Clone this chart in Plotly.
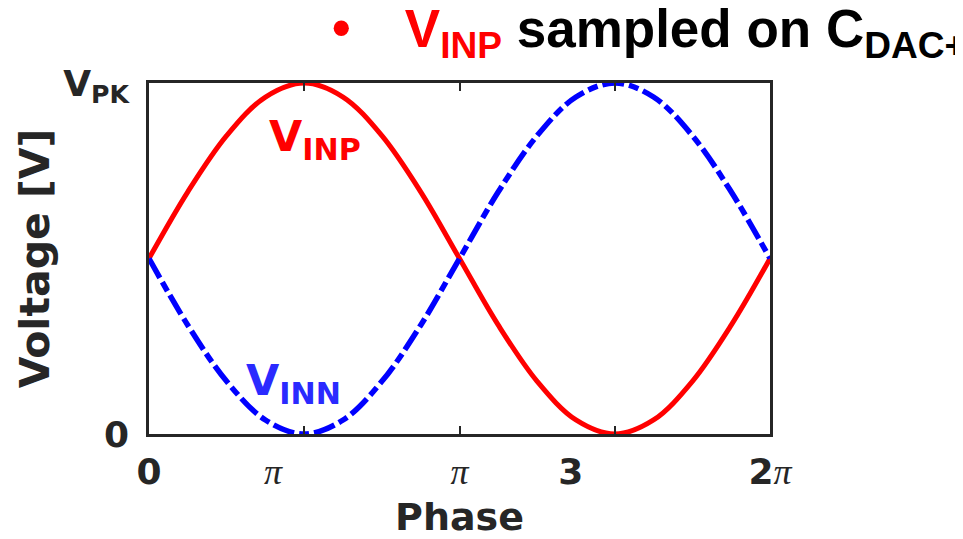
import plotly.graph_objects as go

# Phase in degrees (0 .. 2*pi)
phase_deg = [0, 22.5, 45, 67.5, 90, 112.5, 135, 157.5, 180,
             202.5, 225, 247.5, 270, 292.5, 315, 337.5, 360]
# Normalised voltage (0 .. V_PK)
v_inp = [0.5, 0.69, 0.85, 0.96, 1.0, 0.96, 0.85, 0.69, 0.5,
         0.31, 0.15, 0.04, 0.0, 0.04, 0.15, 0.31, 0.5]
v_inn = [0.5, 0.31, 0.15, 0.04, 0.0, 0.04, 0.15, 0.31, 0.5,
         0.69, 0.85, 0.96, 1.0, 0.96, 0.85, 0.69, 0.5]

x_tickvals = [0, 90, 180, 270, 360]
PI = "<span style='font-family:Liberation Serif;font-weight:normal;font-style:italic'>π</span>"
NB = "\u00a0"
x_ticktext = ["0", PI + NB * 5, PI, "3" + NB * 7, "2" + PI]
y_tickvals = [0, 1]
y_ticktext = ["0", "V<sub>PK</sub>"]

fig = go.Figure()
fig.add_trace(go.Scatter(x=phase_deg, y=v_inp, mode="lines",
                         line=dict(color="#ff0000", width=5, shape="spline"),
                         cliponaxis=False, showlegend=False))
fig.add_trace(go.Scatter(x=phase_deg, y=v_inn, mode="lines",
                         line=dict(color="#0000ff", width=5.5, shape="spline",
                                   dash="22px,5px,10px,5px"),
                         cliponaxis=False, showlegend=False))

axis_font = dict(family="DejaVu Sans", size=36, color="#262626", weight="bold")

fig.update_layout(
    width=955, height=531,
    margin=dict(l=141, r=193, t=75, b=105, autoexpand=False),
    paper_bgcolor="white", plot_bgcolor="white",
    title=dict(
        text="<span style='color:#ff0000'>V<sub>INP</sub></span> sampled on C<sub>DAC+</sub>",
        font=dict(family="Liberation Sans", size=53, color="black", weight="bold"),
        xref="container", x=0.4155, xanchor="left",
        yref="container", y=0.996, yanchor="top", automargin=False),
    xaxis=dict(range=[0, 360], tickvals=x_tickvals, ticktext=x_ticktext,
               tickfont=axis_font, ticks="inside", ticklen=8, tickwidth=2,
               tickcolor="#262626", showline=True, linecolor="#262626",
               linewidth=2.5, mirror="all", showgrid=False, zeroline=False,
               ticklabelstandoff=4, automargin=False,
               title=dict(text="Phase", font=dict(family="DejaVu Sans", size=38,
                                                  color="#262626", weight="bold"),
                          standoff=18)),
    yaxis=dict(range=[0, 1], tickvals=y_tickvals, ticktext=y_ticktext,
               tickfont=axis_font, ticks="", showline=True, linecolor="#262626",
               linewidth=2.5, mirror="all", showgrid=False, zeroline=False,
               ticklabelstandoff=10, automargin=False,
               title=dict(text="Voltage [V]", font=dict(family="DejaVu Sans", size=41,
                                                        color="#262626", weight="bold"),
                          standoff=1)),
)

# bullet of the title line
fig.add_annotation(x=0.3092, y=1.157, xref="paper", yref="paper", showarrow=False,
                   xanchor="center", yanchor="middle", text="•",
                   font=dict(family="Liberation Sans", size=53, color="#ff0000", weight="bold"))

fig.add_annotation(x=96, y=0.84, xref="x", yref="y", showarrow=False,
                   text="V<sub>INP</sub>",
                   font=dict(family="DejaVu Sans", size=43, color="#ff0000", weight="bold"))
fig.add_annotation(x=84, y=0.145, xref="x", yref="y", showarrow=False,
                   text="V<sub>INN</sub>",
                   font=dict(family="DejaVu Sans", size=43, color="#2a2aff", weight="bold"))

fig.write_html("out.html")
